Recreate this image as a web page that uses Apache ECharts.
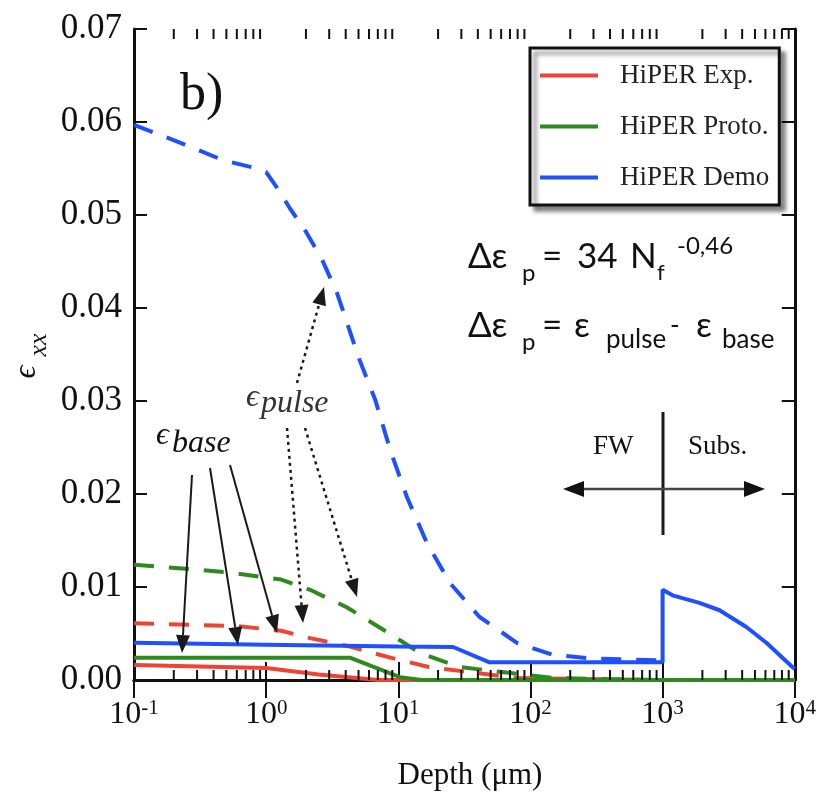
<!DOCTYPE html>
<html>
<head>
<meta charset="utf-8">
<script src="https://cdn.jsdelivr.net/npm/echarts@6/dist/echarts.min.js"></script>
<style>
  html, body { margin: 0; padding: 0; background: #fff; }
  #chart { width: 819px; height: 804px; }
</style>
</head>
<body>
<div id="chart"></div>
<script>
// depth in um (log axis) vs strain
var majorTicks = [0.1, 1, 10, 100, 1000, 10000]
var yTicks = [0, 0.01, 0.02, 0.03, 0.04, 0.05, 0.06, 0.07]

// HiPER Exp. (red)
var expBaseX = [0.1, 1, 2.5, 4.2, 7, 10000]
var expBaseY = [0.0016, 0.0013, 0.0006, 0.0003, 0, 0]
var expPulseX = [0.1, 0.6, 1.3, 2.15, 4.3, 8.7, 17, 37, 80, 1000]
var expPulseY = [0.0061, 0.0058, 0.0053, 0.0045, 0.0036, 0.0024, 0.0014, 0.0008, 0.0002, 0]

// HiPER Proto. (green)
var protoBaseX = [0.1, 4.3, 10.3, 15, 10000]
var protoBaseY = [0.0024, 0.0024, 0.0003, 0, 0]
var protoPulseX = [0.1, 0.5, 1.3, 2.15, 4.1, 7.7, 14.6, 29, 66, 150, 1000]
var protoPulseY = [0.0124, 0.0116, 0.0108, 0.0097, 0.0078, 0.0054, 0.0029, 0.0014, 0.0008, 0.0002, 0]

// HiPER Demo (blue)
var demoBaseX = [0.1, 1, 10, 26, 49, 1000, 1000, 1190, 1900, 2700, 4300, 6100, 9600, 10000]
var demoBaseY = [0.0040, 0.0038, 0.0036, 0.00355, 0.0019, 0.0019, 0.0097, 0.0091, 0.0083, 0.0075, 0.0057, 0.0040, 0.0014, 0.0012]
var demoPulseX = [0.1, 0.24, 0.47, 0.8, 1, 1.2, 1.5, 2, 2.65, 3.44, 5.0, 6.7, 8.7, 11.6, 16.5, 24.7, 41, 79, 148, 300, 1000]
var demoPulseY = [0.0597, 0.0576, 0.0559, 0.0551, 0.0546, 0.053, 0.0508, 0.0482, 0.0452, 0.0416, 0.0347, 0.0301, 0.0247, 0.0197, 0.0147, 0.0104, 0.0068, 0.0040, 0.0027, 0.0023, 0.0021]

var RED = '#ee4433', GREEN = '#2e8a1e', BLUE = '#1e50ff'
var SERIF = 'Liberation Serif, DejaVu Serif, serif'
var SANS = 'Lato, Open Sans, sans-serif'

function zip(xs, ys) {
  return xs.map(function (x, i) { return [x, ys[i]] })
}

// minor ticks 2..9 in each decade
var minorX = []
majorTicks.slice(0, -1).forEach(function (d) {
  for (var k = 2; k <= 9; k++) minorX.push(d * k)
})

function lineSeries(name, xs, ys, color, dashed) {
  return {
    name: name,
    type: 'line',
    data: zip(xs, ys),
    symbol: 'none',
    color: color,
    lineStyle: { color: color, width: 4, type: dashed ? [20, 15] : 'solid' },
    z: dashed ? 3 : 4
  }
}

function txt(x, y, s, size, extra) {
  return {
    type: 'text', x: x, y: y, z: 50,
    style: Object.assign({
      text: s, fontSize: size, fontFamily: SERIF, fill: '#111',
      align: 'left', verticalAlign: 'middle'
    }, extra || {})
  }
}

function arrow(x1, y1, x2, y2, dotted) {
  var dx = x2 - x1, dy = y2 - y1
  var len = Math.sqrt(dx * dx + dy * dy)
  var ux = dx / len, uy = dy / len
  var hl = 18, hw = 7
  var bx = x2 - ux * hl, by = y2 - uy * hl
  return [
    { type: 'line', z: 50, shape: { x1: x1, y1: y1, x2: bx, y2: by },
      style: { stroke: '#1a1a1a', lineWidth: dotted ? 2.5 : 2, lineDash: dotted ? [3, 4] : null } },
    { type: 'polygon', z: 50,
      shape: { points: [[x2, y2], [bx - uy * hw, by + ux * hw], [bx + uy * hw, by - ux * hw]] },
      style: { fill: '#1a1a1a' } }
  ]
}

var yName1 = txt(27, 372, '\u03f5', 32, { align: 'center', fontStyle: 'italic' })
yName1.rotation = Math.PI / 2
var yName2 = txt(39, 345, 'xx', 26, { align: 'center', fontStyle: 'italic' })
yName2.rotation = Math.PI / 2

var graphics = []
  .concat([
    txt(180, 95, 'b)', 52),
    yName1,
    yName2,
    // epsilon base / pulse labels
    txt(156, 436, '\u03f5', 32, { fontStyle: 'italic' }),
    txt(172, 444, 'base', 32, { fontStyle: 'italic' }),
    txt(246, 398, '\u03f5', 32, { fontStyle: 'italic', fill: '#333' }),
    txt(261, 404, 'pulse', 32, { fontStyle: 'italic', fill: '#333' }),
    // FW / Subs
    txt(593, 447, 'FW', 27),
    txt(688, 447, 'Subs.', 27),
    // formula line 1
    txt(468, 257, '\u0394\u03b5', 35, { fontFamily: SANS }),
    txt(522, 273, 'p', 24, { fontFamily: SANS }),
    txt(542, 257, '=', 35, { fontFamily: SANS }),
    txt(577, 257, '34', 35, { fontFamily: SANS }),
    txt(630, 257, 'N', 35, { fontFamily: SANS }),
    txt(657, 273, 'f', 22, { fontFamily: SANS }),
    txt(677, 246, '-0,46', 24, { fontFamily: SANS }),
    // formula line 2
    txt(468, 326, '\u0394\u03b5', 35, { fontFamily: SANS }),
    txt(522, 342, 'p', 24, { fontFamily: SANS }),
    txt(542, 326, '=', 35, { fontFamily: SANS }),
    txt(574, 326, '\u03b5', 35, { fontFamily: SANS }),
    txt(606, 340, 'pulse', 26, { fontFamily: SANS }),
    txt(670, 326, '-', 26, { fontFamily: SANS }),
    txt(696, 326, '\u03b5', 35, { fontFamily: SANS }),
    txt(722, 340, 'base', 26, { fontFamily: SANS }),
    // x axis name
    txt(470, 776, 'Depth (\u03bcm)', 31, { align: 'center' }),
    // FW / Subs divider and double arrow
    { type: 'line', z: 50, shape: { x1: 663, y1: 412, x2: 663, y2: 535 },
      style: { stroke: '#1a1a1a', lineWidth: 3 } },
    { type: 'line', z: 50, shape: { x1: 580, y1: 489, x2: 748, y2: 489 },
      style: { stroke: '#444', lineWidth: 2.5 } },
    { type: 'polygon', z: 50, shape: { points: [[563, 489], [584, 481], [584, 497]] }, style: { fill: '#111' } },
    { type: 'polygon', z: 50, shape: { points: [[765, 489], [744, 481], [744, 497]] }, style: { fill: '#111' } }
  ])
  .concat(arrow(192, 475, 182, 653, false))
  .concat(arrow(210, 468, 238, 645, false))
  .concat(arrow(230, 465, 277, 633, false))
  .concat(arrow(287, 428, 303, 623, true))
  .concat(arrow(305, 428, 357, 597, true))
  .concat(arrow(297, 383, 324, 287, true))

var chart = echarts.init(document.getElementById('chart'), null, { renderer: 'canvas' })

chart.setOption({
  animation: false,
  backgroundColor: '#fff',
  grid: { left: 134, right: 24, top: 29, bottom: 124, containLabel: false },
  legend: {
    data: ['HiPER Exp.', 'HiPER Proto.', 'HiPER Demo'],
    orient: 'vertical',
    left: 530,
    top: 48,
    padding: [14, 10, 14, 10],
    itemGap: 24,
    itemWidth: 58,
    itemHeight: 4,
    icon: 'rect',
    backgroundColor: '#fff',
    borderColor: '#111',
    borderWidth: 3,
    borderRadius: 0,
    shadowColor: 'rgba(0,0,0,0.45)',
    shadowBlur: 4,
    shadowOffsetX: 5,
    shadowOffsetY: 5,
    textStyle: { fontFamily: SERIF, fontSize: 27, color: '#222', padding: [0, 0, 0, 17] }
  },
  xAxis: [
    {
      type: 'log',
      logBase: 10,
      min: 0.1,
      max: 10000,
      axisLine: { lineStyle: { color: '#111', width: 3 } },
      axisTick: { inside: true, length: 18, lineStyle: { color: '#111', width: 2 } },
      splitLine: { show: false },
      axisLabel: {
        margin: 18,
        formatter: function (v) {
          var e = Math.round(Math.log10(v))
          return '{b|10}{s|' + e + '}'
        },
        rich: {
          b: { fontFamily: SERIF, fontSize: 32, color: '#111', lineHeight: 34 },
          s: { fontFamily: SERIF, fontSize: 21, color: '#111', verticalAlign: 'top', lineHeight: 20 }
        }
      }
    },
    {
      type: 'log',
      logBase: 10,
      min: 0.1,
      max: 10000,
      position: 'top',
      axisLine: { lineStyle: { color: '#111', width: 3 } },
      axisTick: { inside: true, length: 18, lineStyle: { color: '#111', width: 2 } },
      axisLabel: { show: false },
      splitLine: { show: false }
    }
  ],
  yAxis: [
    {
      type: 'value',
      min: 0,
      max: 0.07,
      interval: 0.01,
      axisLine: { show: true, lineStyle: { color: '#111', width: 3 } },
      axisTick: { show: true, inside: true, length: 13, lineStyle: { color: '#111', width: 2 } },
      splitLine: { show: false },
      axisLabel: {
        margin: 12,
        fontFamily: SERIF,
        fontSize: 35,
        color: '#111',
        formatter: function (v) { return v.toFixed(2) }
      }
    },
    {
      type: 'value',
      min: 0,
      max: 0.07,
      interval: 0.01,
      position: 'right',
      axisLine: { show: true, lineStyle: { color: '#111', width: 3 } },
      axisTick: { show: true, inside: true, length: 13, lineStyle: { color: '#111', width: 2 } },
      axisLabel: { show: false },
      splitLine: { show: false }
    }
  ],
  series: [
    lineSeries('HiPER Exp. pulse', expPulseX, expPulseY, RED, true),
    lineSeries('HiPER Proto. pulse', protoPulseX, protoPulseY, GREEN, true),
    lineSeries('HiPER Demo pulse', demoPulseX, demoPulseY, BLUE, true),
    lineSeries('HiPER Exp.', expBaseX, expBaseY, RED, false),
    lineSeries('HiPER Proto.', protoBaseX, protoBaseY, GREEN, false),
    lineSeries('HiPER Demo', demoBaseX, demoBaseY, BLUE, false),
    {
      name: 'minor ticks',
      type: 'custom',
      silent: true,
      clip: false,
      z: 10,
      data: minorX.map(function (v) { return [v, 0] }),
      renderItem: function (params, api) {
        var pb = api.coord([api.value(0), 0])
        var pt = api.coord([api.value(0), 0.07])
        var st = { stroke: '#111', lineWidth: 2 }
        return {
          type: 'group',
          children: [
            { type: 'line', shape: { x1: pb[0], y1: pb[1], x2: pb[0], y2: pb[1] - 10 }, style: st },
            { type: 'line', shape: { x1: pt[0], y1: pt[1], x2: pt[0], y2: pt[1] + 10 }, style: st }
          ]
        }
      }
    }
  ],
  graphic: graphics
})
</script>
</body>
</html>
